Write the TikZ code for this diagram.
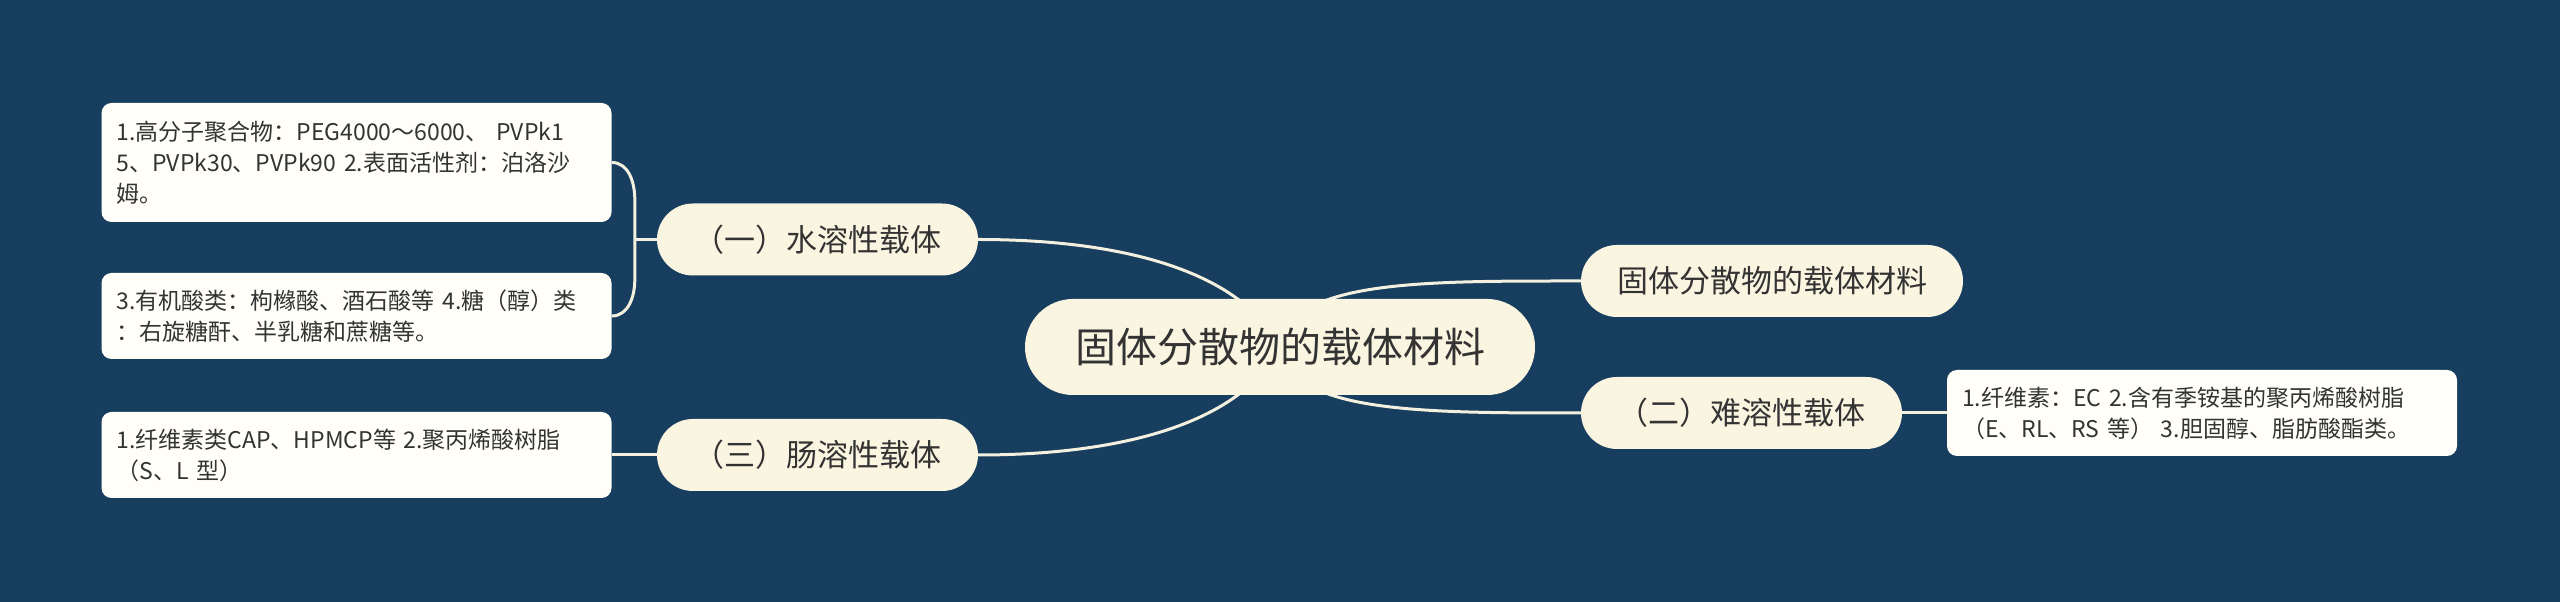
\documentclass[tikz,border=0pt]{standalone}
\usepackage{fontspec}
\newfontfamily\cjk{Noto Sans CJK SC}
\usetikzlibrary{backgrounds,calc}
\definecolor{bgblue}{HTML}{173E5E}
\definecolor{cream}{HTML}{FAF5E1}
\definecolor{paper}{HTML}{FFFEF8}
\definecolor{wire}{HTML}{F4F0DF}
\definecolor{ink}{HTML}{333333}
\begin{document}
\begin{tikzpicture}[x=1pt,y=1pt,
  root/.style={fill=cream,rounded corners=48pt,minimum width=510pt,minimum height=96pt,inner sep=0pt,text=ink,font=\cjk\fontsize{41}{49}\selectfont},
  topic/.style={fill=cream,rounded corners=36pt,minimum height=72pt,inner sep=0pt,text=ink,font=\cjk\fontsize{31}{37}\selectfont},
  leaf/.style={fill=paper,rounded corners=10pt,minimum height=86pt,text width=480pt,align=left,inner xsep=15pt,inner ysep=0pt,text=ink,font=\cjk\fontsize{23}{31}\selectfont},
  wire/.style={draw=wire,line width=3pt}]
\useasboundingbox (0,0) rectangle (2560,602);
\node[root] (ctr) at (1280,255) {固体分散物的载体材料};
\node[topic,minimum width=382pt] (r1) at (1772,321) {固体分散物的载体材料};
\node[topic,minimum width=321pt] (r2) at (1741.5,189) {（二）难溶性载体};
\node[leaf] (b1) at (2202,189) {1.纤维素：EC 2.含有季铵基的聚丙烯酸树脂\\（E、RL、RS 等） 3.胆固醇、脂肪酸酯类。};
\node[topic,minimum width=321pt] (l1) at (817.5,362.5) {（一）水溶性载体};
\node[topic,minimum width=321pt] (l3) at (817.5,147) {（三）肠溶性载体};
\node[leaf,minimum height=119pt] (a1) at (356.5,439.5) {1.高分子聚合物：PEG4000～6000、 PVPk1\\5、PVPk30、PVPk90 2.表面活性剂：泊洛沙\\姆。};
\node[leaf] (a2) at (356.5,286) {3.有机酸类：枸橼酸、酒石酸等 4.糖（醇）类\\：右旋糖酐、半乳糖和蔗糖等。};
\node[leaf] (a3) at (356.5,147) {1.纤维素类CAP、HPMCP等 2.聚丙烯酸树脂\\（S、L 型）};
\coordinate (k1) at ($(l1.west)+(-22,0)$);
\begin{scope}[on background layer]
\fill[bgblue] (0,0) rectangle (2560,602);
\draw[wire] (l1.east) .. controls (1120,362.5) and (1240,332) .. (ctr.center);
\draw[wire] (l3.east) .. controls (1120,147) and (1240,178) .. (ctr.center);
\draw[wire] (ctr.center) .. controls (1290,322) and (1420,321) .. (r1.west);
\draw[wire] (ctr.center) .. controls (1290,189) and (1420,189) .. (r2.west);
\draw[wire] (r2.east) -- (b1.west);
\draw[wire] (l1.west) -- (k1);
\draw[wire] (a1.east) to[out=0,in=90] ($(k1)+(0,40)$) -- ($(k1)+(0,-40)$) to[out=-90,in=0] (a2.east);
\draw[wire] (l3.west) -- (a3.east);
\end{scope}
\end{tikzpicture}
\end{document}
